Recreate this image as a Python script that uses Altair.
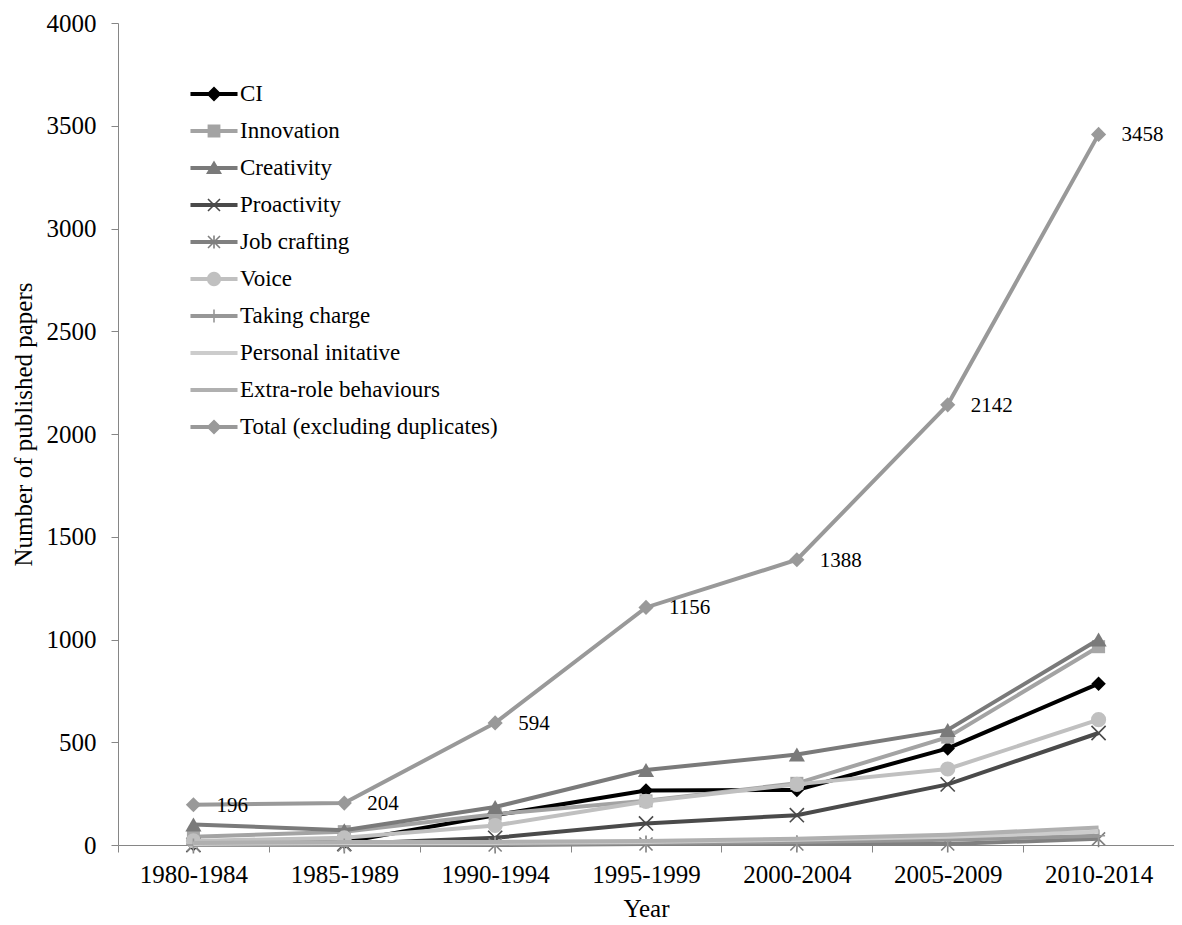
import math
import altair as alt
import pandas as pd

# ---------------- data ----------------
periods = ["1980-1984", "1985-1989", "1990-1994", "1995-1999",
           "2000-2004", "2005-2009", "2010-2014"]

series_names = ["CI", "Innovation", "Creativity", "Proactivity", "Job crafting",
                "Voice", "Taking charge", "Personal initative",
                "Extra-role behaviours", "Total (excluding duplicates)"]

ci = [5, 15, 145, 265, 268, 470, 785]
innovation = [40, 65, 150, 215, 300, 525, 965]
creativity = [100, 72, 185, 365, 440, 560, 1000]
proactivity = [0, 5, 35, 105, 145, 295, 545]
job_crafting = [0, 0, 0, 5, 5, 5, 30]
voice = [20, 35, 95, 212, 295, 370, 610]
taking_charge = [0, 0, 5, 10, 15, 25, 45]
personal_initiative = [5, 10, 10, 15, 25, 40, 65]
extra_role = [10, 15, 15, 20, 30, 50, 85]
total = [196, 204, 594, 1156, 1388, 2142, 3458]

all_values = [ci, innovation, creativity, proactivity, job_crafting, voice,
              taking_charge, personal_initiative, extra_role, total]

rows = []
for s_idx, (name, vals) in enumerate(zip(series_names, all_values)):
    for p, v in zip(periods, vals):
        rows.append({"series": name, "period": p, "value": v, "order": s_idx})
df = pd.DataFrame(rows)

# ---------------- styles ----------------
FONT = "Liberation Serif"
colors = ["#000000", "#a3a3a3", "#7a7a7a", "#4a4a4a", "#808080",
          "#c0c0c0", "#979797", "#cccccc", "#b0b0b0", "#999999"]

# legend symbols: line segment + marker (unit = 16px)
BAR = "M-1.47,-0.125V0.125H1.47V-0.125Z"
DIAMOND = "M0,-0.47L-0.47,0L0,0.47L0.47,0Z"
SQUARE = "M-0.4,-0.4V0.4H0.4V-0.4Z"
TRIANGLE = "M0,-0.47L-0.5,0.38L0.5,0.38Z"
XMARK = ("M-0.41,-0.34L0.34,0.41L0.41,0.34L-0.34,-0.41Z"
         "M-0.34,0.41L0.41,-0.34L0.34,-0.41L-0.41,0.34Z")
VTICK = "M-0.05,-0.4V0.4H0.05V-0.4Z"
circle_pts = []
for k in range(24):
    a = 2 * math.pi * k / 24
    circle_pts.append(f"{0.45 * math.cos(a):.3f},{-0.45 * math.sin(a):.3f}")
CIRCLE = "M" + "L".join(circle_pts) + "Z"

legend_paths = [
    BAR + DIAMOND,
    BAR + SQUARE,
    BAR + TRIANGLE,
    BAR + XMARK,
    BAR + XMARK + VTICK,
    BAR + CIRCLE,
    BAR + VTICK,
    BAR,
    BAR,
    BAR + DIAMOND,
]

# chart markers: series -> (shape, filled, size, colour)
marker_specs = {
    "CI": ("diamond", True, 210, "#000000"),
    "Innovation": ("square", True, 170, "#a6a6a6"),
    "Creativity": ("triangle-up", True, 260, "#7a7a7a"),
    "Proactivity": ("M-1,-1L1,1M-1,1L1,-1", False, 200, "#4a4a4a"),
    "Job crafting": ("M-1,-1L1,1M-1,1L1,-1M0,-1.3V1.3", False, 170, "#808080"),
    "Voice": ("circle", True, 230, "#c0c0c0"),
    "Taking charge": ("M0,-1V1M-1,0H1", False, 170, "#979797"),
    "Total (excluding duplicates)": ("diamond", True, 230, "#999999"),
}

# ---------------- encodings ----------------
x_enc = alt.X(
    "period:N",
    sort=periods,
    scale=alt.Scale(type="band", domain=periods, paddingInner=0, paddingOuter=0),
    bandPosition=0.5,
    title="Year",
    axis=alt.Axis(tickBand="extent", labelAngle=0, labelPadding=10,
                  titlePadding=9, tickSize=7),
)
y_enc = alt.Y(
    "value:Q",
    scale=alt.Scale(domain=[0, 4000], nice=False),
    title="Number of published papers",
    axis=alt.Axis(values=list(range(0, 4001, 500)), format="d", labelPadding=15,
                  titlePadding=10, titleY=401, tickSize=7, grid=False),
)

base = alt.Chart(df)

layers = []
for name, col in zip(series_names, colors):
    sub = base.transform_filter(alt.datum.series == name)
    layers.append(sub.mark_line(strokeWidth=4, color=col).encode(x=x_enc, y=y_enc))
    if name in marker_specs:
        shape, filled, size, mcol = marker_specs[name]
        if filled:
            m = sub.mark_point(shape=shape, filled=True, size=size, color=mcol, opacity=1)
        else:
            m = sub.mark_point(shape=shape, filled=False, size=size, color=mcol,
                               strokeWidth=1.6, opacity=1)
        layers.append(m.encode(x=x_enc, y=y_enc))

labels = base.transform_filter(
    alt.datum.series == "Total (excluding duplicates)"
).mark_text(align="left", baseline="middle", dx=23, dy=1, font=FONT,
            fontSize=21, color="black").encode(x=x_enc, y=y_enc, text="value:Q")
layers.append(labels)

leg = alt.Legend(
    title=None, orient="none", legendX=80, legendY=55,
    symbolSize=1024, symbolOpacity=1, symbolStrokeWidth=0,
    labelFont=FONT, labelFontSize=23, labelColor="black",
    labelOffset=10, rowPadding=9, padding=0, labelLimit=500,
)

legend_layer = base.mark_point(filled=True, opacity=0).encode(
    x=x_enc, y=y_enc,
    color=alt.Color("series:N", scale=alt.Scale(domain=series_names, range=colors),
                    sort=series_names, legend=leg),
    shape=alt.Shape("series:N", scale=alt.Scale(domain=series_names, range=legend_paths),
                    sort=series_names, legend=leg),
)
layers.append(legend_layer)

chart = alt.layer(*layers).properties(
    width=1056, height=822,
    autosize=alt.AutoSizeParams(type="none"),
    padding={"left": 110, "top": 15, "right": 0, "bottom": 80},
).configure_view(stroke=None).configure_axis(
    domainColor="#868686", tickColor="#868686", domainWidth=1, tickWidth=1,
    labelFont=FONT, labelFontSize=25, labelColor="black",
    titleFont=FONT, titleFontSize=25, titleFontWeight="normal", titleColor="black",
    grid=False,
)

chart.save("out.html", embed_options={"renderer": "svg", "actions": False})
